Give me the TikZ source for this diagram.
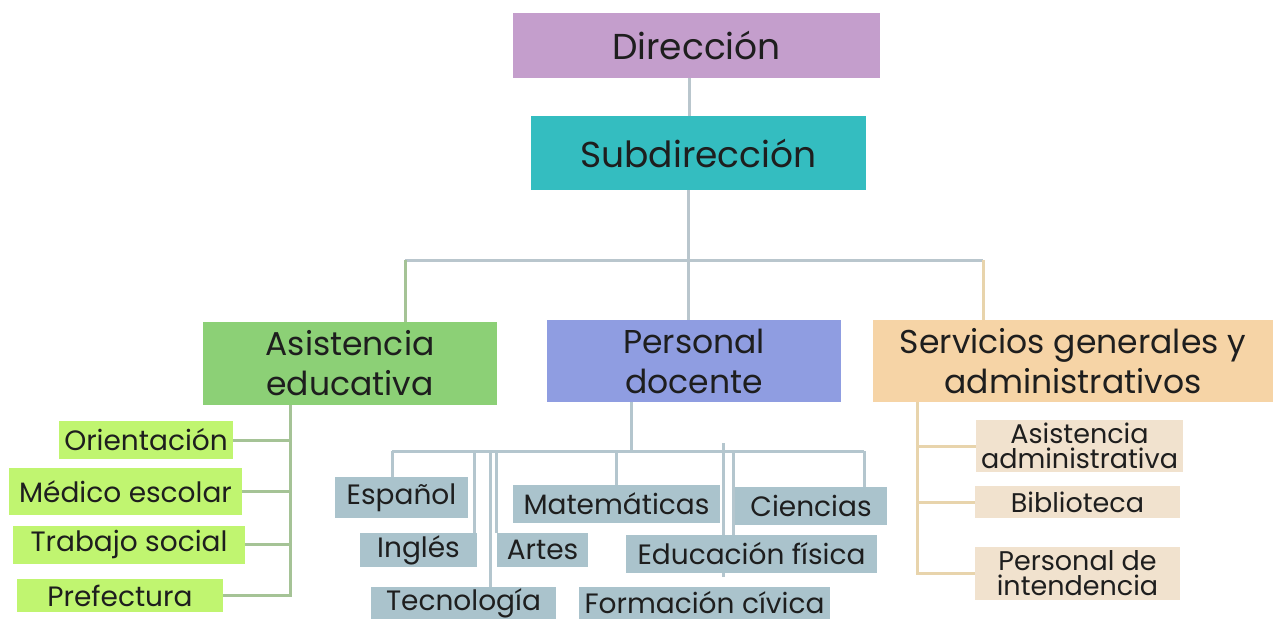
\documentclass[tikz,border=0pt]{standalone}
\usepackage{fontspec}
\setmainfont{Poppins}
\usetikzlibrary{backgrounds,calc}
\definecolor{cdir}{RGB}{196,158,204}
\definecolor{csub}{RGB}{52,189,192}
\definecolor{cae}{RGB}{140,208,118}
\definecolor{cpd}{RGB}{143,157,225}
\definecolor{csg}{RGB}{246,212,166}
\definecolor{clime}{RGB}{192,245,112}
\definecolor{cgray}{RGB}{170,195,204}
\definecolor{cbeige}{RGB}{241,226,206}
\definecolor{lgray}{RGB}{185,198,205}
\definecolor{lgreen}{RGB}{165,195,150}
\definecolor{ltan}{RGB}{232,212,172}
\definecolor{lblue}{RGB}{180,198,206}
\definecolor{txt}{RGB}{30,30,30}
\tikzset{
  box/.style={rectangle, inner sep=0pt, align=center, text=txt, font=\fontsize{33}{40}\selectfont},
  topbox/.style={box, font=\fontsize{36}{40}\selectfont},
  sbox/.style={box, font=\fontsize{28}{30}\selectfont},
  tbox/.style={box, font=\fontsize{27}{25}\selectfont},
  conn/.style={line width=3pt, lgray},
}
\begin{document}
\begin{tikzpicture}[x=1pt,y=-1pt]
\useasboundingbox (0,0) rectangle (1273,619);
% top
\node[topbox, fill=cdir, minimum width=367, minimum height=65] (dir) at (696.5,45.5) {Dirección};
\node[topbox, fill=csub, minimum width=335, minimum height=74] (sub) at (698.5,153) {Subdirección};
% second level
\node[box, fill=cae, minimum width=294, minimum height=83] (ae) at (350,363.5) {Asistencia\\educativa};
\node[box, fill=cpd, minimum width=294, minimum height=82] (pd) at (694,361) {Personal\\docente};
\node[box, fill=csg, minimum width=400, minimum height=82] (sg) at (1073,361) {Servicios generales y\\administrativos};
% asistencia children
\node[sbox, fill=clime, minimum width=174, minimum height=38] (ori) at (146,440) {Orientación};
\node[sbox, fill=clime, minimum width=233, minimum height=47] (med) at (125.5,491.5) {Médico escolar};
\node[sbox, fill=clime, minimum width=232, minimum height=38] (tra) at (129,544.5) {Trabajo social};
\node[sbox, fill=clime, minimum width=206, minimum height=33] (pre) at (120,595.5) {Prefectura};
% personal docente children
\node[sbox, fill=cgray, minimum width=133, minimum height=41] (esp) at (401.5,497.5) {Español};
\node[sbox, fill=cgray, minimum width=117, minimum height=34] (ing) at (418.5,550) {Inglés};
\node[sbox, fill=cgray, minimum width=91, minimum height=34] (art) at (542.5,550) {Artes};
\node[sbox, fill=cgray, minimum width=185, minimum height=32] (tec) at (463.5,603) {Tecnología};
\node[sbox, fill=cgray, minimum width=207, minimum height=38] (mat) at (616.5,504) {Matemáticas};
\node[sbox, fill=cgray, minimum width=152, minimum height=38] (cie) at (811,506) {Ciencias};
\node[sbox, fill=cgray, minimum width=251, minimum height=38] (edu) at (751.5,554) {Educación física};
\node[sbox, fill=cgray, minimum width=251, minimum height=32] (for) at (704.5,603) {Formación cívica};
% servicios children
\node[tbox, fill=cbeige, minimum width=207, minimum height=52] (asa) at (1079.5,446) {Asistencia\\administrativa};
\node[tbox, fill=cbeige, minimum width=205, minimum height=32] (bib) at (1077.5,502) {Biblioteca};
\node[tbox, fill=cbeige, minimum width=205, minimum height=53] (pin) at (1077.5,573.5) {Personal de\\intendencia};
% junction coordinates
\coordinate (xdir) at (689,45);
\coordinate (hsub) at (688,260);
\coordinate (xae) at (405,260);
\coordinate (xsg) at (983,260);
\coordinate (vae) at (290,405);
\coordinate (vpd) at (631,402);
\coordinate (hpd) at (631,451);
\coordinate (vsg) at (917,402);
\coordinate (x392) at (392,451);
\coordinate (x864) at (864,451);
\coordinate (x474) at (474,451);
\coordinate (x490) at (490,451);
\coordinate (x496) at (496,451);
\coordinate (x616) at (616,451);
\coordinate (x723) at (723,443);
\coordinate (x733) at (733,451);
\begin{scope}[on background layer]
\fill[white] (0,0) rectangle (1273,619);
\draw[conn] (dir.south -| xdir) -- (sub.north -| xdir);
\draw[conn] (sub.south -| hsub) -- (hsub);
\draw[conn] (xae) -- (xsg);
\draw[conn] (hsub) -- (pd.north -| hsub);
\draw[conn, lgreen] (xae) -- (ae.north -| xae);
\draw[conn, ltan] (xsg) -- (sg.north -| xsg);
% asistencia
\draw[conn, lgreen] (vae) |- (ori.east);
\draw[conn, lgreen] (vae) |- (med.east);
\draw[conn, lgreen] (vae) |- (tra.east);
\draw[conn, lgreen] (vae) |- (pre.east);
% personal docente
\draw[conn, lblue] (vpd) -- (hpd);
\draw[conn, lblue] (x392) -- (x864);
\draw[conn, lblue] (x392) -- (esp.north -| x392);
\draw[conn, lblue] (x474) -- (ing.north -| x474);
\draw[conn, lblue] (x490) -- (tec.north -| x490);
\draw[conn, lblue] (x496) -- (art.north -| x496);
\draw[conn, lblue] (x616) -- (mat.north -| x616);
\draw[conn, lblue] (x723) -- ($(for.north -| x723)+(0,-10)$);
\draw[conn, lblue] (x733) -- (edu.north -| x733);
\draw[conn, lblue] (x864) -- (cie.north -| x864);
% servicios
\draw[conn, ltan] (vsg) |- (asa.west);
\draw[conn, ltan] (vsg) |- (bib.west);
\draw[conn, ltan] (vsg) |- (pin.west);
\end{scope}
\end{tikzpicture}
\end{document}
